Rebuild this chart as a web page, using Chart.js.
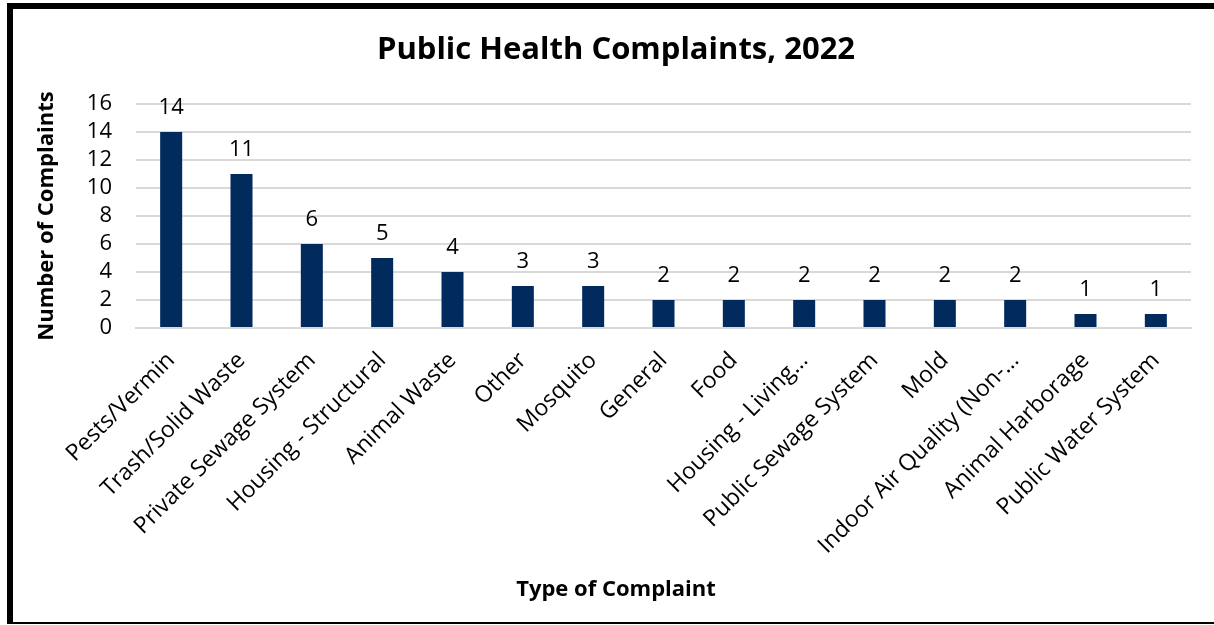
<!DOCTYPE html>
<html>
<head>
<meta charset="utf-8">
<script src="https://cdn.jsdelivr.net/npm/chart.js@4"></script>
<style>
  html, body { margin: 0; padding: 0; background: #fff; overflow: hidden; }
  #wrap { position: relative; width: 1214px; height: 625px; }
  #frame { position: absolute; left: 7px; top: 3px; width: 1300px; height: 613px;
           border-left: 6px solid #000; border-top: 6px solid #000; border-bottom: 2px solid #000;
           pointer-events: none; }
  canvas { position: absolute; left: 0; top: 0; }
</style>
</head>
<body>
<div id="wrap">
  <canvas id="c" width="1214" height="625"></canvas>
  <div id="frame"></div>
</div>
<script>
const chartTitle = "Public Health Complaints, 2022";
const xTitle = "Type of Complaint";
const yTitle = "Number of Complaints";
const categories = [
  "Pests/Vermin", "Trash/Solid Waste", "Private Sewage System", "Housing - Structural",
  "Animal Waste", "Other", "Mosquito", "General", "Food", "Housing - Living\u2026",
  "Public Sewage System", "Mold", "Indoor Air Quality (Non-\u2026", "Animal Harborage",
  "Public Water System"
];
const complaints = [14, 11, 6, 5, 4, 3, 3, 2, 2, 2, 2, 2, 2, 1, 1];
const yTicks = [0, 2, 4, 6, 8, 10, 12, 14, 16];

const FONT = "'Open Sans', sans-serif";

const valueLabels = {
  id: 'valueLabels',
  afterDatasetsDraw(chart) {
    const ctx = chart.ctx;
    const meta = chart.getDatasetMeta(0);
    ctx.save();
    ctx.font = "22px " + FONT;
    ctx.fillStyle = "#000";
    ctx.textAlign = "center";
    ctx.textBaseline = "alphabetic";
    meta.data.forEach((bar, i) => {
      ctx.fillText(String(complaints[i]), bar.x, bar.y - 18);
    });
    ctx.restore();
  }
};

new Chart(document.getElementById('c'), {
  type: 'bar',
  data: {
    labels: categories,
    datasets: [{
      data: complaints,
      backgroundColor: '#002B5C',
      borderWidth: 0,
      categoryPercentage: 0.313,
      barPercentage: 1
    }]
  },
  options: {
    responsive: false,
    animation: false,
    layout: { padding: { left: 41, right: 23, top: 9, bottom: 0 } },
    plugins: {
      legend: { display: false },
      tooltip: { enabled: false },
      title: {
        display: true,
        text: chartTitle,
        color: '#000',
        font: { family: FONT, size: 31, weight: 'bold', lineHeight: 1.2 },
        padding: { top: 22.4, bottom: 35.4 }
      },
      subtitle: {
        display: true,
        position: 'bottom',
        text: xTitle,
        color: '#000',
        font: { family: FONT, size: 22, weight: 'bold', lineHeight: 1.2 },
        padding: { top: 0, bottom: 21.8 }
      }
    },
    scales: {
      x: {
        grid: { display: false, drawTicks: false },
        border: { display: true, color: '#d9d9d9', width: 2 },
        ticks: {
          autoSkip: false, maxRotation: 45, minRotation: 45,
          color: '#000', padding: 19,
          font: { family: FONT, size: 23 }
        },
        afterFit(scale) { scale.height = 248.8; }
      },
      y: {
        min: 0, max: 16,
        afterBuildTicks(scale) { scale.ticks = yTicks.map(v => ({ value: v })); },
        grid: { color: '#d9d9d9', lineWidth: 2, drawTicks: false },
        border: { display: false },
        ticks: {
          autoSkip: false,
          color: '#000', padding: 24,
          font: { family: FONT, size: 22, lineHeight: 1 }
        },
        title: {
          display: true, text: yTitle, color: '#000',
          font: { family: FONT, size: 22, weight: 'bold', lineHeight: 1.2 },
          padding: { top: -7.2, bottom: 0 }
        },
        afterFit(scale) { scale.width = 95; }
      }
    }
  },
  plugins: [valueLabels]
});
</script>
</body>
</html>
